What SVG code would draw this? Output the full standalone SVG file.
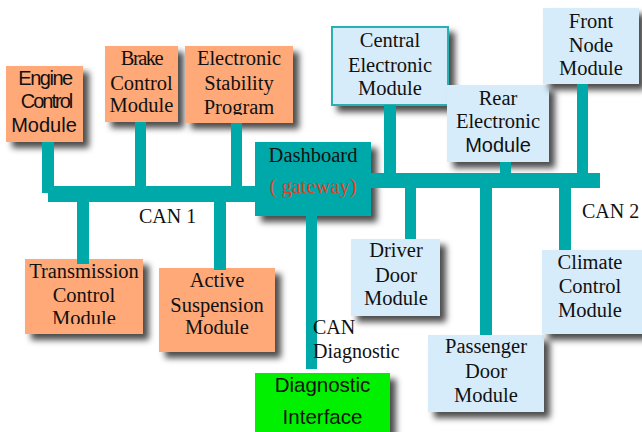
<svg xmlns="http://www.w3.org/2000/svg" width="642" height="432" viewBox="0 0 642 432">
  <defs>
    <filter id="shadow" x="-20%" y="-20%" width="150%" height="150%">
      <feDropShadow dx="6" dy="6" stdDeviation="3" flood-color="#000" flood-opacity="0.7"/>
    </filter>
    <clipPath id="clipEsp"><rect x="185" y="46" width="108" height="69"/></clipPath>
    <clipPath id="clipTcm"><rect x="25" y="259" width="118" height="65"/></clipPath>
  </defs>
  <style>
    .peach { fill: #FFA878; filter: url(#shadow); }
    .blue { fill: #D6ECFA; filter: url(#shadow); }
    .teal { fill: #00A9A9; }
    .serif { font-family: "Liberation Serif", "Times New Roman", serif; font-size: 20.5px; fill: #111; text-anchor: middle; }
    .sans { font-family: "Liberation Sans", Arial, sans-serif; font-size: 20px; fill: #111; text-anchor: middle; }
    .label { font-family: "Liberation Serif", "Times New Roman", serif; font-size: 20px; fill: #111; }
  </style>

  <rect width="642" height="432" fill="#fff"/>

  <!-- CAN 1 nodes -->
  <g id="engine">
    <rect class="peach" x="6" y="66" width="77" height="76"/>
    <text class="sans" x="45" y="85" letter-spacing="-1.5">Engine</text>
    <text class="sans" x="46" y="108" letter-spacing="-2">Control</text>
    <text class="sans" x="44" y="132">Module</text>
  </g>
  <g id="brake">
    <rect class="peach" x="105" y="46" width="73" height="76"/>
    <text class="serif" x="141.5" y="65" letter-spacing="-1.5">Brake</text>
    <text class="serif" x="141.5" y="90">Control</text>
    <text class="serif" x="141.5" y="112">Module</text>
  </g>
  <g id="esp">
    <rect class="peach" x="185" y="46" width="108" height="77"/>
    <g clip-path="url(#clipEsp)">
      <text class="serif" x="239" y="65">Electronic</text>
      <text class="serif" x="239" y="90">Stability</text>
      <text class="serif" x="239" y="114">Program</text>
    </g>
  </g>
  <g id="transmission">
    <rect class="peach" x="25" y="259" width="118" height="75"/>
    <g clip-path="url(#clipTcm)">
      <text class="serif" x="84" y="278">Transmission</text>
      <text class="serif" x="84" y="302">Control</text>
      <text class="serif" x="84" y="325">Module</text>
    </g>
  </g>
  <g id="suspension">
    <rect class="peach" x="159" y="268" width="116" height="84"/>
    <text class="serif" x="217" y="287">Active</text>
    <text class="serif" x="217" y="312">Suspension</text>
    <text class="serif" x="217" y="334">Module</text>
  </g>

  <!-- Gateway -->
  <g id="dashboard">
    <rect class="teal" x="255" y="142" width="116" height="74" filter="url(#shadow)"/>
    <text class="serif" x="313" y="162">Dashboard</text>
    <text class="serif" x="313" y="193" style="fill:#E4401E">( gateway)</text>
  </g>

  <!-- CAN 2 nodes -->
  <g id="central">
    <rect class="blue" x="332" y="27" width="116" height="78" stroke="#2AB0B0" stroke-width="2"/>
    <text class="serif" x="390" y="47">Central</text>
    <text class="serif" x="390" y="72">Electronic</text>
    <text class="serif" x="390" y="95">Module</text>
  </g>
  <g id="rear">
    <rect class="blue" x="447" y="85" width="102" height="77"/>
    <text class="serif" x="498" y="105">Rear</text>
    <text class="serif" x="498" y="128">Electronic</text>
    <text class="sans" x="498" y="152">Module</text>
  </g>
  <g id="front">
    <rect class="blue" x="543" y="8" width="96" height="76"/>
    <text class="serif" x="591" y="28">Front</text>
    <text class="serif" x="591" y="52">Node</text>
    <text class="serif" x="591" y="75">Module</text>
  </g>
  <g id="driver">
    <rect class="blue" x="351" y="239" width="89" height="77"/>
    <text class="serif" x="396" y="257">Driver</text>
    <text class="serif" x="396" y="282">Door</text>
    <text class="serif" x="396" y="305">Module</text>
  </g>
  <g id="passenger">
    <rect class="blue" x="428" y="335" width="116" height="77"/>
    <text class="serif" x="486" y="353">Passenger</text>
    <text class="serif" x="486" y="378">Door</text>
    <text class="serif" x="486" y="402">Module</text>
  </g>
  <g id="climate">
    <rect class="blue" x="542" y="250" width="102" height="84"/>
    <text class="serif" x="590" y="269">Climate</text>
    <text class="serif" x="590" y="293">Control</text>
    <text class="serif" x="590" y="317">Module</text>
  </g>

  <!-- Diagnostic port -->
  <g id="diagnostic">
    <rect x="255" y="373" width="135" height="62" fill="#00F000" filter="url(#shadow)"/>
    <text class="sans" x="322.5" y="392" style="font-size:20.5px">Diagnostic</text>
    <text class="sans" x="322.5" y="424" style="font-size:20.5px">Interface</text>
  </g>

  <!-- Bus lines and stubs -->
  <g id="connectors" class="teal">
    <rect x="48" y="186" width="207" height="16"/>
    <rect x="42" y="142" width="12" height="51"/>
    <rect x="135" y="122" width="11" height="66"/>
    <rect x="231" y="123" width="11" height="65"/>
    <rect x="77" y="200" width="12" height="64"/>
    <rect x="214" y="200" width="12" height="70"/>
    <rect x="371" y="173" width="229" height="15"/>
    <rect x="384" y="105" width="12" height="70"/>
    <rect x="500" y="162" width="11" height="13"/>
    <rect x="577" y="84" width="11" height="91"/>
    <rect x="405" y="186" width="11" height="53"/>
    <rect x="480" y="186" width="12" height="149"/>
    <rect x="559" y="186" width="12" height="64"/>
    <rect x="306" y="216" width="11" height="153"/>
  </g>

  <!-- Bus labels -->
  <text class="label" x="139" y="223">CAN 1</text>
  <text class="label" x="582" y="218">CAN 2</text>
  <text class="label" x="313" y="334">CAN</text>
  <text class="label" x="313" y="358">Diagnostic</text>
</svg>
